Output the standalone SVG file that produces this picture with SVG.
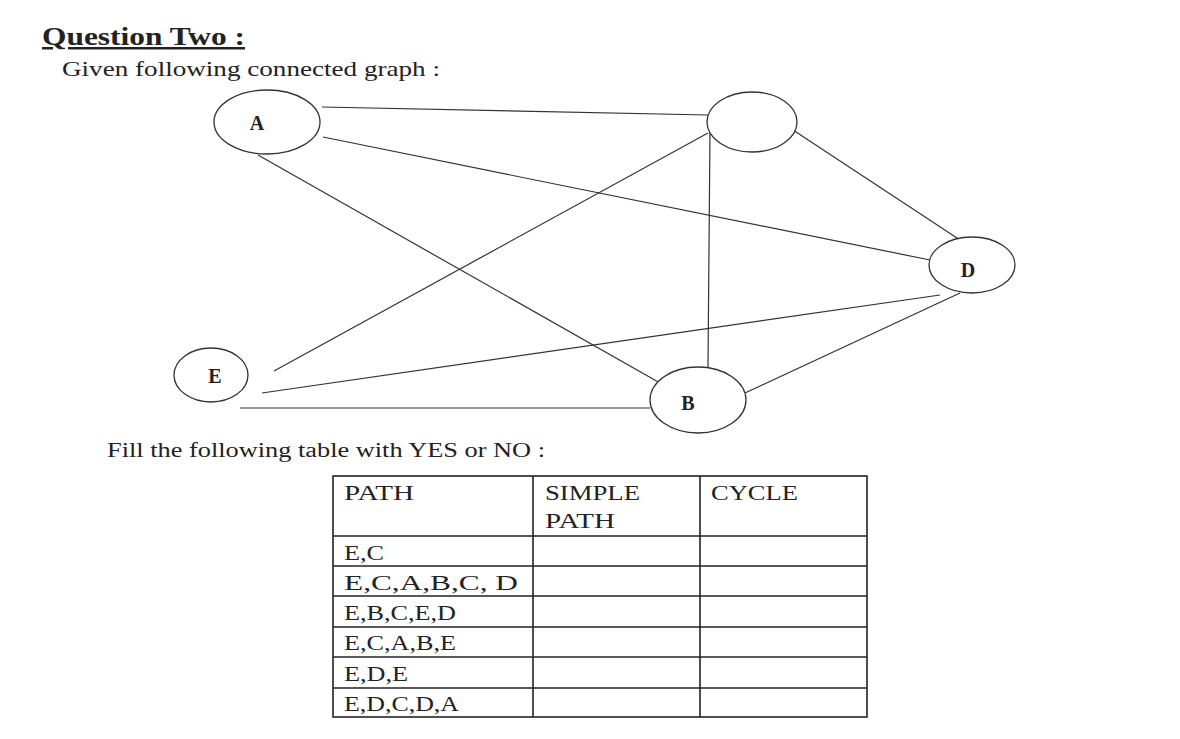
<svg xmlns="http://www.w3.org/2000/svg" width="1180" height="739" viewBox="0 0 1180 739">
<style>
text{font-family:"Liberation Serif","Times New Roman",serif;fill:#222}
.n{fill:#fff;stroke:#333;stroke-width:1.3}
.l{font-weight:bold;font-size:20px;text-anchor:middle}
.e{stroke:#333;stroke-width:1.2;fill:none}
.t{stroke:#222;stroke-width:1.6;fill:none}
.c{font-size:21px}
</style>
<rect width="1180" height="739" fill="#fff"/>
<text x="42" y="45" font-size="25" font-weight="bold" text-decoration="underline" textLength="203" lengthAdjust="spacingAndGlyphs">Question Two :</text>
<text x="62" y="76" font-size="22" textLength="378" lengthAdjust="spacingAndGlyphs">Given following connected graph  :</text>
<g id="edges">
<line class="e" x1="322" y1="107" x2="708" y2="115"/>
<line class="e" x1="323" y1="137" x2="930" y2="260"/>
<line class="e" x1="258" y1="155" x2="660" y2="383"/>
<line class="e" x1="708" y1="133" x2="274" y2="371"/>
<line class="e" x1="710" y1="130" x2="708" y2="367" stroke="#888" stroke-width="0.8"/>
<line class="e" x1="793" y1="130" x2="960" y2="240"/>
<line class="e" x1="262" y1="393" x2="940" y2="295"/>
<line class="e" x1="960" y1="293" x2="745" y2="393"/>
<line class="e" x1="240" y1="408" x2="650" y2="408" stroke-width="2.2" stroke="#222"/>
</g>
<g id="A"><ellipse class="n" cx="267" cy="122" rx="53" ry="32"/><text class="l" x="257" y="130">A</text></g>
<g id="C"><ellipse class="n" cx="752" cy="122" rx="45" ry="30"/></g>
<g id="D"><ellipse class="n" cx="972" cy="265" rx="43" ry="28"/><text class="l" x="968" y="277">D</text></g>
<g id="E"><ellipse class="n" cx="211" cy="375" rx="37" ry="27"/><text class="l" x="215" y="383">E</text></g>
<g id="B"><ellipse class="n" cx="698" cy="400" rx="48" ry="33"/><text class="l" x="688" y="410">B</text></g>
<text x="107" y="457" font-size="20" textLength="438" lengthAdjust="spacingAndGlyphs">Fill the following table with YES or NO :</text>
<g id="table">
<rect class="t" x="333" y="476" width="534" height="241"/>
<line class="t" x1="533" y1="476" x2="533" y2="717"/>
<line class="t" x1="700" y1="476" x2="700" y2="717"/>
<line class="t" x1="333" y1="536" x2="867" y2="536"/>
<line class="t" x1="333" y1="566" x2="867" y2="566" stroke-width="1"/>
<line class="t" x1="333" y1="596" x2="867" y2="596" stroke-width="1"/>
<line class="t" x1="333" y1="627" x2="867" y2="627" stroke-width="1"/>
<line class="t" x1="333" y1="657" x2="867" y2="657" stroke-width="1"/>
<line class="t" x1="333" y1="688" x2="867" y2="688"/>
<text class="c" x="344" y="500" textLength="70" lengthAdjust="spacingAndGlyphs">PATH</text>
<text class="c" x="545" y="500" textLength="95" lengthAdjust="spacingAndGlyphs">SIMPLE</text>
<text class="c" x="545" y="528" textLength="70" lengthAdjust="spacingAndGlyphs">PATH</text>
<text class="c" x="711" y="500" textLength="87" lengthAdjust="spacingAndGlyphs">CYCLE</text>
<text class="c" x="344" y="560" textLength="40" lengthAdjust="spacingAndGlyphs">E,C</text>
<text class="c" x="344" y="590" textLength="174" lengthAdjust="spacingAndGlyphs">E,C,A,B,C, D</text>
<text class="c" x="344" y="620" textLength="112" lengthAdjust="spacingAndGlyphs">E,B,C,E,D</text>
<text class="c" x="344" y="650" textLength="112" lengthAdjust="spacingAndGlyphs">E,C,A,B,E</text>
<text class="c" x="344" y="681" textLength="64" lengthAdjust="spacingAndGlyphs">E,D,E</text>
<text class="c" x="344" y="711" textLength="115" lengthAdjust="spacingAndGlyphs">E,D,C,D,A</text>
</g>
</svg>
